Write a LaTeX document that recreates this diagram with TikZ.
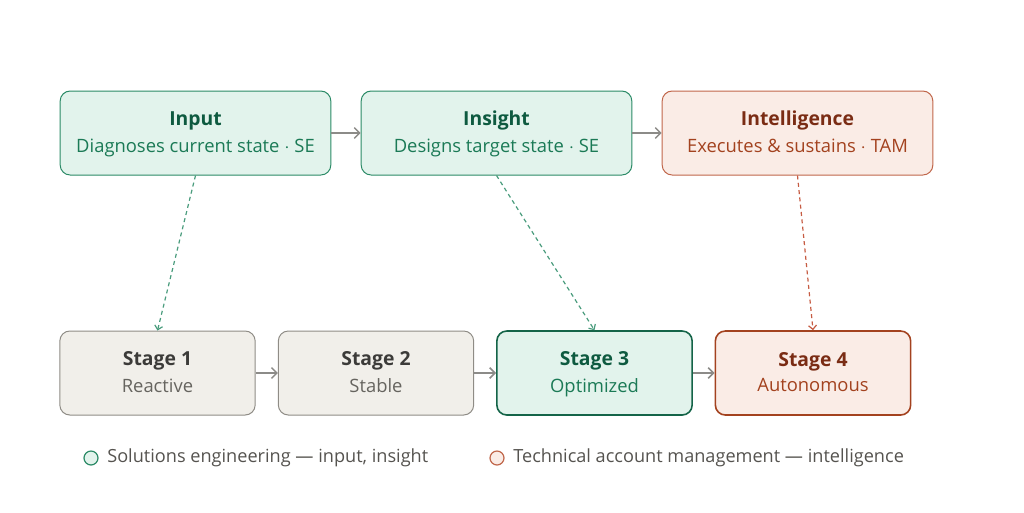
\documentclass[tikz,border=0pt]{standalone}
\usepackage{fontspec}
\setmainfont{Open Sans}
\usetikzlibrary{positioning,arrows.meta}
\definecolor{sefill}{HTML}{E2F3EC}
\definecolor{sedraw}{HTML}{2A8A66}
\definecolor{setitle}{HTML}{0E5A40}
\definecolor{setext}{HTML}{1B7A56}
\definecolor{tamfill}{HTML}{FAECE6}
\definecolor{tamdraw}{HTML}{C0664A}
\definecolor{tamtitle}{HTML}{7A2C14}
\definecolor{tamtext}{HTML}{A3421F}
\definecolor{stfill}{HTML}{F1EFEA}
\definecolor{stdraw}{HTML}{8F8C86}
\definecolor{sttitle}{HTML}{3C3B39}
\definecolor{sttext}{HTML}{66645F}
\definecolor{flow}{HTML}{8C8B88}
\definecolor{legendtext}{HTML}{55534F}
\tikzstyle{phase} = [draw, rectangle, rounded corners=7.5pt, minimum width=203pt, minimum height=63pt, align=center, line width=0.75pt]
\tikzstyle{stage} = [phase, minimum width=146.5pt]
\tikzstyle{se} = [fill=sefill, draw=sedraw, text=setitle]
\tikzstyle{tam} = [fill=tamfill, draw=tamdraw, text=tamtitle]
\tikzstyle{gray} = [fill=stfill, draw=stdraw, text=sttitle]
\tikzstyle{flowline} = [draw=flow, line width=1.1pt, -{Straight Barb[length=4pt,width=8pt]}]
\tikzstyle{handoff} = [line width=0.9pt, dash pattern=on 3pt off 2.5pt, -{Straight Barb[length=3pt,width=6pt]}]
\newcommand{\ttl}[1]{{\fontsize{14.5}{18}\selectfont\bfseries\rule[-4pt]{0pt}{17pt}#1}}
\newcommand{\sub}[2]{{\fontsize{13.8}{16}\selectfont\color{#1}\rule[-4pt]{0pt}{13pt}#2}}
\begin{document}
\begin{tikzpicture}[x=0.75pt,y=-0.75pt]
		\useasboundingbox (0,0) rectangle (1024,512);
		% phases
		\node (in) [phase, se] at (195.5,133) {\ttl{Input}\\[4.5pt]\sub{setext}{Diagnoses current state $\cdot$ SE}};
		\node (ins) [phase, se] at (496.5,133) {\ttl{Insight}\\[4.5pt]\sub{setext}{Designs target state $\cdot$ SE}};
		\node (int) [phase, tam] at (797.5,133) {\ttl{Intelligence}\\[4.5pt]\sub{tamtext}{Executes \& sustains $\cdot$ TAM}};
		% stages
		\node (s1) [stage, gray] at (157.5,373) {\ttl{Stage 1}\\[4.5pt]\sub{sttext}{Reactive}};
		\node (s2) [stage, gray] at (376,373) {\ttl{Stage 2}\\[4.5pt]\sub{sttext}{Stable}};
		\node (s3) [stage, se, line width=1.2pt, draw=setitle!80!sedraw] at (594.5,373) {\ttl{Stage 3}\\[4.5pt]\sub{setext}{Optimized}};
		\node (s4) [stage, tam, line width=1.2pt, draw=tamtext] at (813,373) {\ttl{Stage 4}\\[4.5pt]\sub{tamtext}{Autonomous}};
		
		\draw [flowline] (in) -- (ins);
		\draw [flowline] (ins) -- (int);
		\draw [flowline] (s1) -- (s2);
		\draw [flowline] (s2) -- (s3);
		\draw [flowline] (s3) -- (s4);
		
		\draw [handoff, draw=sedraw!85!white] (in.south) -- (s1.north);
		\draw [handoff, draw=sedraw!85!white] (ins.south) -- (s3.north);
		\draw [handoff, draw=tamdraw!90!red] (int.south) -- (s4.north);
		
		% legend
		\node (k1) [circle, draw=sedraw, fill=sefill, line width=0.9pt, minimum size=10.5pt, inner sep=0pt] at (91,458) {};
		\node (t1) [right=3pt of k1, text=legendtext, font=\fontsize{13.6}{16}\selectfont] {Solutions engineering --- input, insight};
		\node (k2) [circle, draw=tamdraw, fill=tamfill, line width=0.9pt, minimum size=10.5pt, inner sep=0pt] at (497,458) {};
		\node (t2) [right=3pt of k2, text=legendtext, font=\fontsize{13.6}{16}\selectfont] {Technical account management --- intelligence};
	\end{tikzpicture}
\end{document}
